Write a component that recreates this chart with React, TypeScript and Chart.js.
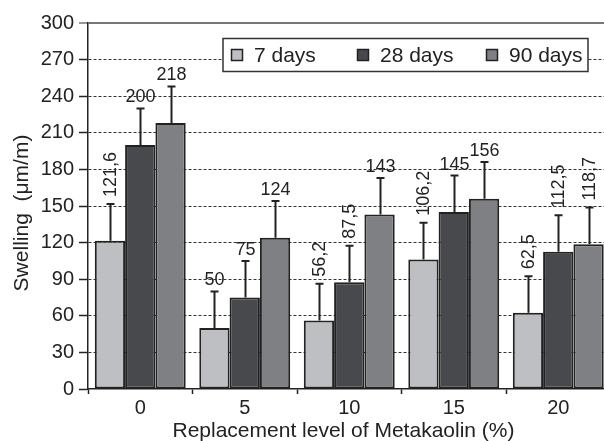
import React, { useEffect, useRef } from "react";
import { Chart, registerables } from "chart.js";

Chart.register(...registerables);

const categories = ["0", "5", "10", "15", "20"];
const seriesLabels = ["7 days", "28 days", "90 days"];
const days7 = [121.6, 50, 56.2, 106.2, 62.5];
const days28 = [200, 75, 87.5, 145, 112.5];
const days90 = [218, 124, 143, 156, 118.7];
const err7 = [30, 30, 30, 30, 30];
const err28 = [30, 30, 30, 30, 30];
const err90 = [30, 30, 30, 30, 30];
const yTicks = [0, 30, 60, 90, 120, 150, 180, 210, 240, 270, 300];
const xTitle = "Replacement level of Metakaolin (%)";
const yTitle = "Swelling  (μm/m)";

const FONT = '"Liberation Sans", Arial, Helvetica, sans-serif';
const colors = ["#bebfc3", "#48494c", "#7f8084"];
const INK = "#222222";

const errorsAll = [err7, err28, err90];

const fmt = (v: number) => String(v).replace(".", ",");

const errorBarPlugin = {
  id: "errorBars",
  afterDatasetsDraw(chart: any) {
    const ctx = chart.ctx;
    const y = chart.scales.y;
    chart.data.datasets.forEach((ds: any, di: number) => {
      const meta = chart.getDatasetMeta(di);
      meta.data.forEach((bar: any, i: number) => {
        const v = ds.data[i];
        const e = errorsAll[di][i];
        const top = y.getPixelForValue(v + e);
        const x = Math.round(bar.x) + 0.5;
        ctx.save();
        ctx.strokeStyle = INK;
        ctx.lineWidth = 2;
        ctx.beginPath();
        ctx.moveTo(x, bar.y);
        ctx.lineTo(x, top);
        ctx.moveTo(x - 4, top);
        ctx.lineTo(x + 4, top);
        ctx.stroke();
        // value label
        const label = fmt(v);
        ctx.fillStyle = INK;
        ctx.font = `18px ${FONT}`;
        if (label.includes(",")) {
          ctx.translate(x, top - 7);
          ctx.rotate(-Math.PI / 2);
          ctx.textAlign = "left";
          ctx.textBaseline = "middle";
          ctx.fillText(label, 0, 1);
        } else {
          ctx.textAlign = "center";
          ctx.textBaseline = "alphabetic";
          ctx.fillText(label, x, top - 6);
        }
        ctx.restore();
      });
    });
  },
};

const decorPlugin = {
  id: "decor",
  afterDraw(chart: any) {
    const ctx = chart.ctx;
    ctx.save();
    // axis titles
    ctx.fillStyle = INK;
    ctx.font = `21px ${FONT}`;
    ctx.textAlign = "center";
    ctx.textBaseline = "middle";
    ctx.fillText(xTitle, 343.5, 431);
    ctx.save();
    ctx.translate(22, 213);
    ctx.rotate(-Math.PI / 2);
    ctx.fillText(yTitle, 0, 0);
    ctx.restore();

    // legend
    const bx = 223, by = 38.5, bw = 365, bh = 33;
    ctx.fillStyle = "#ffffff";
    ctx.fillRect(bx, by, bw, bh);
    ctx.strokeStyle = "#333333";
    ctx.lineWidth = 1.5;
    ctx.strokeRect(bx, by, bw, bh);
    const markerX = [231, 357, 486];
    chart.data.datasets.forEach((ds: any, i: number) => {
      const mx = markerX[i];
      const my = 55;
      ctx.fillStyle = ds.backgroundColor;
      ctx.fillRect(mx, my - 6, 12, 12);
      ctx.strokeStyle = INK;
      ctx.lineWidth = 1.5;
      ctx.strokeRect(mx + 0.5, my - 5.5, 11, 11);
      ctx.fillStyle = INK;
      ctx.font = `21px ${FONT}`;
      ctx.textAlign = "left";
      ctx.textBaseline = "middle";
      ctx.fillText(ds.label, mx + 23, my + 1);
    });
    ctx.restore();
  },
};

export default function App() {
  const ref = useRef<HTMLCanvasElement | null>(null);

  useEffect(() => {
    if (!ref.current) return;
    const chart = new Chart(ref.current, {
      type: "bar",
      data: {
        labels: categories,
        datasets: [days7, days28, days90].map((d, i) => ({
          label: seriesLabels[i],
          data: d,
          backgroundColor: colors[i],
          borderColor: INK,
          borderWidth: 2,
          borderSkipped: false,
          categoryPercentage: 0.87,
          barPercentage: 1.0,
        })),
      },
      options: {
        responsive: false,
        animation: false,
        devicePixelRatio: 1,
        layout: { padding: { left: 0, top: 23, right: 1.5, bottom: 0 } },
        plugins: {
          legend: { display: false },
          tooltip: { enabled: false },
        },
        scales: {
          x: {
            type: "category",
            offset: true,
            afterFit: (s: any) => {
              s.height = 52;
            },
            grid: {
              offset: true,
              drawOnChartArea: false,
              drawTicks: true,
              tickLength: 5,
              tickColor: INK,
              tickWidth: 1.5,
            },
            border: { display: true, color: INK, width: 1.5 },
            ticks: {
              color: INK,
              font: { family: FONT, size: 20 },
              padding: 2,
              maxRotation: 0,
            },
          },
          y: {
            min: 0,
            max: 300,
            afterFit: (s: any) => {
              s.width = 88;
            },
            afterBuildTicks: (s: any) => {
              s.ticks = yTicks.map((v) => ({ value: v }));
            },
            grid: {
              color: (c: any) =>
                c.tick && c.tick.value === 300
                  ? "#777777"
                  : c.tick && c.tick.value === 0
                  ? "rgba(0,0,0,0)"
                  : "#333333",
              lineWidth: (c: any) => (c.tick && c.tick.value === 300 ? 2 : 1),
              tickColor: (c: any) =>
                c.tick && c.tick.value === 300 ? "#777777" : INK,
              tickLength: 9,
              tickWidth: 1.5,
            },
            border: {
              display: true,
              color: INK,
              width: 1.5,
              dash: (c: any) =>
                c.tick && c.tick.value !== 300 ? [3, 2] : [],
            },
            ticks: {
              color: INK,
              font: { family: FONT, size: 20 },
              padding: 5,
              stepSize: 30,
            },
          },
        },
      },
      plugins: [errorBarPlugin, decorPlugin],
    });
    return () => chart.destroy();
  }, []);

  return (
    <div
      style={{
        position: "fixed",
        left: 0,
        top: 0,
        width: 604,
        height: 441,
        overflow: "hidden",
        background: "#ffffff",
      }}
    >
      <canvas ref={ref} width={612} height={441} style={{ display: "block" }} />
    </div>
  );
}
